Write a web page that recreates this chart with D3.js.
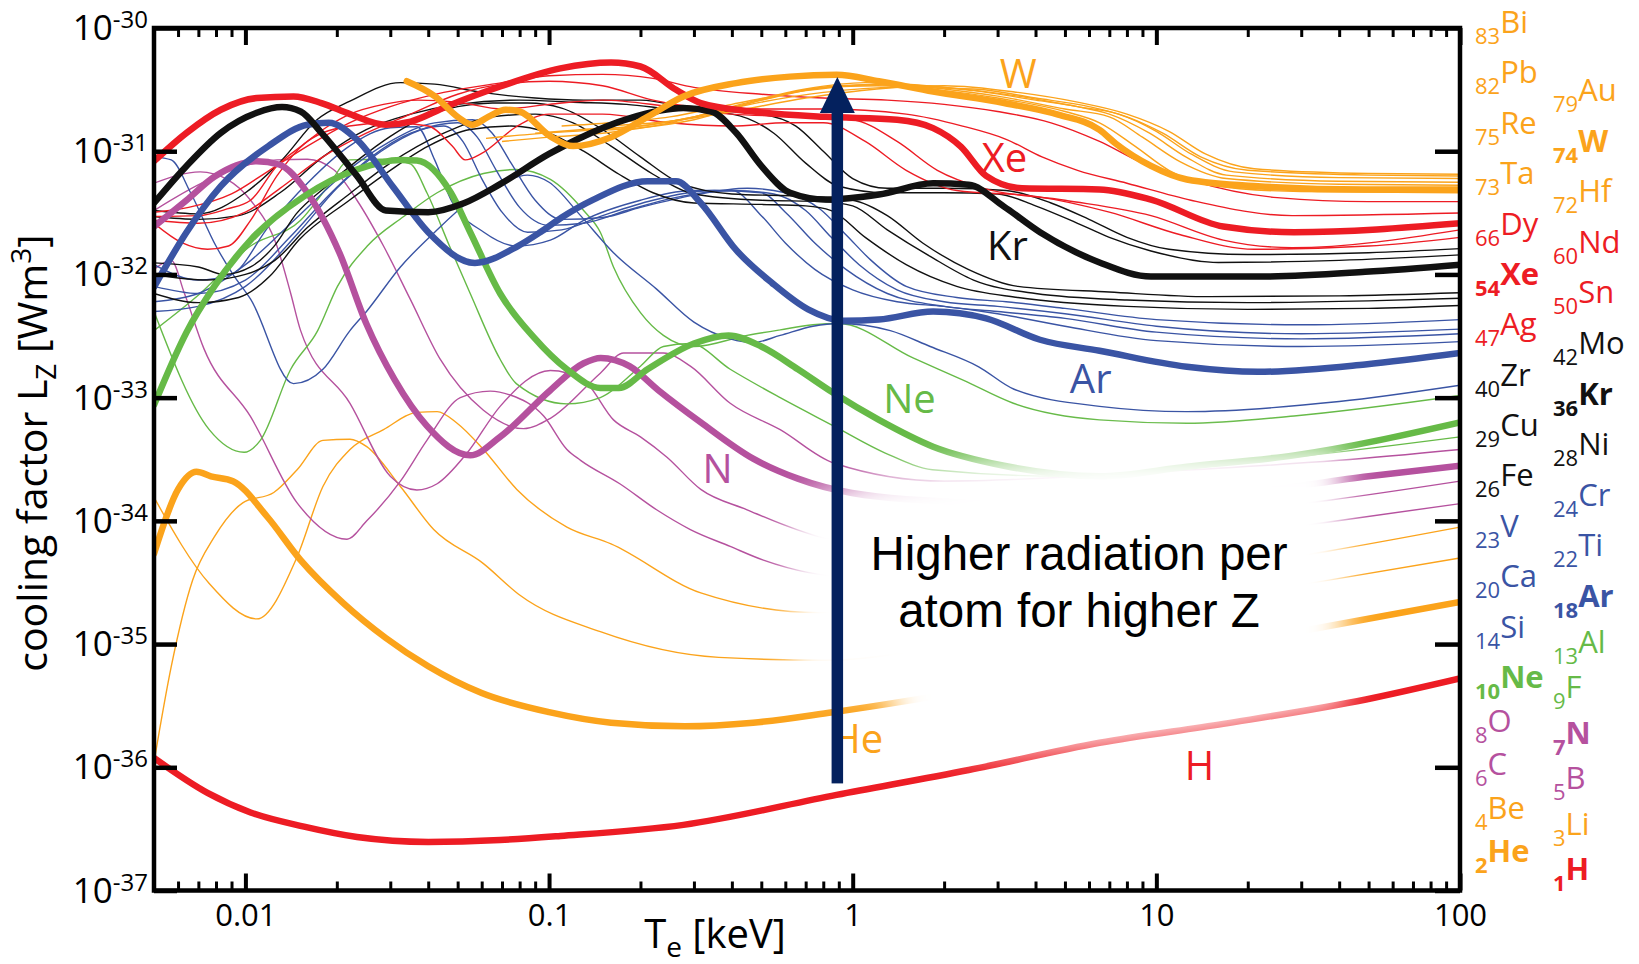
<!DOCTYPE html>
<html>
<head>
<meta charset="utf-8">
<title>Cooling factor Lz</title>
<script src="https://cdn.jsdelivr.net/npm/d3@7"></script>
<style>
    body { margin: 0; background: #fff; }
    svg text { font-family: "Open Sans", sans-serif; }
</style>
</head>
<body>
<svg id="chart"></svg>
<script>
// [Te (keV), Lz (W m^3)]
const H = [[0.005,1.19e-36],[0.0075,6.2e-37],[0.0104,4.3e-37],[0.0156,3.3e-37],[0.0233,2.72e-37],[0.04,2.48e-37],[0.069,2.57e-37],[0.109,2.77e-37],[0.277,3.41e-37],[0.885,5.97e-37],[2.41,9.5e-37],[6.5,1.58e-36],[16.6,2.25e-36],[49,3.55e-36],[100,5.26e-36]];
const He = [[0.005,5.4e-35],[0.006,1.8e-34],[0.0069,2.5e-34],[0.0077,2.3e-34],[0.0091,2.1e-34],[0.0118,1.08e-34],[0.0152,4.8e-35],[0.021,2.15e-35],[0.029,1.12e-35],[0.04,6.6e-36],[0.06,4e-36],[0.1,2.8e-36],[0.16,2.3e-36],[0.28,2.15e-36],[0.47,2.3e-36],[0.86,2.8e-36],[6.5,6.4e-36],[37,1.4e-35],[100,2.2e-35]];
const N = [[0.005,2.45e-32],[0.0064,4e-32],[0.0079,6.2e-32],[0.0109,8.3e-32],[0.0129,7.8e-32],[0.016,4.6e-32],[0.0204,1.5e-32],[0.025,4e-33],[0.031,1.4e-33],[0.0396,5.9e-34],[0.055,3.4e-34],[0.069,4.8e-34],[0.101,1.15e-33],[0.13,1.9e-33],[0.148,2.1e-33],[0.184,1.8e-33],[0.229,1.15e-33],[0.316,6.3e-34],[0.47,3.2e-34],[0.66,2.2e-34],[1.5,1.5e-34],[5,1.35e-34],[20,1.7e-34],[50,2.3e-34],[100,2.8e-34]];
const Ne = [[0.005,8.7e-34],[0.0064,3.4e-33],[0.0079,8e-33],[0.0104,1.9e-32],[0.0156,4.3e-32],[0.0233,7.1e-32],[0.0324,8.5e-32],[0.0367,8.4e-32],[0.0475,4.6e-32],[0.055,2.2e-32],[0.069,7e-33],[0.089,3.1e-33],[0.1145,1.7e-33],[0.1475,1.2e-33],[0.17,1.2e-33],[0.211,1.7e-33],[0.3,2.75e-33],[0.39,3.2e-33],[0.5,2.6e-33],[0.66,1.7e-33],[0.86,1.1e-33],[1.22,6.6e-34],[1.84,4e-34],[3.15,2.8e-34],[6.5,2.3e-34],[12.6,2.75e-34],[28.4,3.4e-34],[100,6.3e-34]];
const Ar = [[0.005,7.9e-33],[0.0064,2.2e-32],[0.0083,5.2e-32],[0.0119,1.1e-31],[0.016,1.64e-31],[0.0188,1.7e-31],[0.0233,1.24e-31],[0.0307,5.1e-32],[0.04,2.2e-32],[0.057,1.24e-32],[0.079,1.7e-32],[0.0935,2.2e-32],[0.11,2.9e-32],[0.14,4.05e-32],[0.211,5.7e-32],[0.262,5.7e-32],[0.316,3.8e-32],[0.413,1.58e-32],[0.543,8.5e-33],[0.713,5.2e-33],[0.935,4.2e-33],[1.22,4.3e-33],[1.84,5e-33],[2.75,4.4e-33],[4.14,2.95e-33],[6.5,2.4e-33],[12.6,1.78e-33],[21.6,1.62e-33],[48.7,1.86e-33],[100,2.3e-33]];
const Kr = [[0.005,3.8e-32],[0.0064,7.6e-32],[0.0083,1.41e-31],[0.0109,2.05e-31],[0.0132,2.28e-31],[0.0152,2.1e-31],[0.0178,1.41e-31],[0.0233,6.3e-32],[0.029,3.3e-32],[0.04,3.2e-32],[0.0526,3.8e-32],[0.069,5.4e-32],[0.1,9.5e-32],[0.123,1.24e-31],[0.184,1.85e-31],[0.277,2.24e-31],[0.342,2.1e-31],[0.413,1.41e-31],[0.5,7.6e-32],[0.622,4.6e-32],[0.816,4.05e-32],[1.22,4.45e-32],[1.84,5.5e-32],[2.41,5.35e-32],[3.15,3.55e-32],[4.14,2.2e-32],[6.5,1.25e-32],[9.6,9.6e-33],[21.6,9.6e-33],[48.7,1.05e-32],[100,1.2e-32]];
const Xe = [[0.005,8.3e-32],[0.0064,1.41e-31],[0.0083,2.17e-31],[0.0109,2.7e-31],[0.0144,2.78e-31],[0.0178,2.46e-31],[0.0221,2e-31],[0.029,1.64e-31],[0.035,1.74e-31],[0.0458,2.3e-31],[0.069,3.35e-31],[0.109,4.7e-31],[0.16,5.25e-31],[0.2,4.87e-31],[0.262,3.15e-31],[0.316,2.46e-31],[0.47,2.1e-31],[0.816,1.9e-31],[1.4,1.8e-31],[1.84,1.54e-31],[2.27,1.09e-31],[2.75,6.3e-32],[3.61,5e-32],[6.5,4.9e-32],[9.6,4.05e-32],[16.6,2.45e-32],[28.4,2.2e-32],[100,2.6e-32]];
const W = [[0.034,3.7e-31],[0.042,2.8e-31],[0.05,1.9e-31],[0.056,1.64e-31],[0.063,1.9e-31],[0.072,2.17e-31],[0.08,2.1e-31],[0.101,1.32e-31],[0.12,1.1e-31],[0.16,1.3e-31],[0.211,1.9e-31],[0.277,2.78e-31],[0.413,3.57e-31],[0.622,4.03e-31],[0.885,4.17e-31],[1.22,3.7e-31],[1.84,3.05e-31],[3.15,2.46e-31],[4.75,1.98e-31],[6.5,1.49e-31],[7.36,1.15e-31],[9.6,7.6e-32],[12.6,5.9e-32],[21.6,5.2e-32],[48.7,4.9e-32],[100,4.9e-32]];

const Li = [[0.005,1.1e-36],[0.0057,6.6e-36],[0.0067,3.3e-35],[0.0079,7.4e-35],[0.0098,1.4e-34],[0.0124,1.7e-34],[0.0148,2.6e-34],[0.018,4.5e-34],[0.0221,4.6e-34],[0.0251,4e-34],[0.0324,1.9e-34],[0.0417,8.5e-35],[0.0608,4.5e-35],[0.08,2.5e-35],[0.1475,1.26e-35],[0.362,7.8e-36],[0.816,7.4e-36],[5,1.6e-35],[37,3.3e-35],[100,5e-35]];
const Be = [[0.005,1.55e-34],[0.0076,3.1e-35],[0.0109,1.6e-35],[0.0148,5.1e-35],[0.018,1.9e-34],[0.0221,3.8e-34],[0.0285,5.5e-34],[0.0367,7.6e-34],[0.0428,7.7e-34],[0.0498,6.2e-34],[0.0608,3.8e-34],[0.0783,1.8e-34],[0.1145,8.9e-35],[0.16,6.5e-35],[0.316,2.6e-35],[0.773,1.8e-35],[4,2.6e-35],[37,5.7e-35],[100,8.9e-35]];
const B = [[0.005,1.1e-32],[0.0057,1.3e-32],[0.0063,7e-33],[0.0073,2.5e-33],[0.0104,7e-34],[0.0148,1.4e-34],[0.0216,7.1e-35],[0.0251,1e-34],[0.0324,2.1e-34],[0.0396,4.5e-34],[0.051,1e-33],[0.064,1.13e-33],[0.0745,1.05e-33],[0.096,7.1e-34],[0.1145,3.8e-34],[0.127,3.1e-34],[0.171,2e-34],[0.226,1.23e-34],[0.292,8.5e-35],[0.395,6.2e-35],[0.508,4.8e-35],[1,3.5e-35],[5,5e-35],[37,9.8e-35],[100,1.38e-34]];
const C = [[0.005,5.5e-32],[0.0071,6.8e-32],[0.0087,5.9e-32],[0.0104,4e-32],[0.0127,1.7e-32],[0.0141,7e-33],[0.0152,3.5e-33],[0.0221,9e-34],[0.03,2.3e-34],[0.0367,1.78e-34],[0.0428,2e-34],[0.0537,3.55e-34],[0.069,8.5e-34],[0.101,1.66e-33],[0.13,1.38e-33],[0.163,6.6e-34],[0.2,4.8e-34],[0.244,3.3e-34],[0.316,1.8e-34],[0.449,1.23e-34],[0.655,8.5e-35],[0.865,7.1e-35],[5,9e-35],[37,1.47e-34],[100,2.1e-34]];
const O = [[0.005,3.3e-32],[0.0075,5.8e-32],[0.0127,8.5e-32],[0.016,8.6e-32],[0.0195,7.1e-32],[0.0233,4e-32],[0.0285,1.7e-32],[0.0349,6.3e-33],[0.0438,2.05e-33],[0.0608,7.9e-34],[0.0824,5.6e-34],[0.101,6.8e-34],[0.1475,1.58e-33],[0.176,2.3e-33],[0.238,2.3e-33],[0.292,1.8e-33],[0.395,9e-34],[0.577,5.5e-34],[0.865,2.95e-34],[2,2.1e-34],[10,2.5e-34],[40,3.1e-34],[100,3.8e-34]];
const F = [[0.005,3.5e-33],[0.0071,7e-33],[0.0104,1.7e-32],[0.0152,2.75e-32],[0.0186,5.1e-32],[0.0221,8.5e-32],[0.0285,8.6e-32],[0.0349,7.9e-32],[0.0396,4.6e-32],[0.047,1.7e-32],[0.055,7e-33],[0.069,2.05e-33],[0.078,1.3e-33],[0.1145,8.9e-34],[0.1475,1e-33],[0.2,1.8e-33],[0.238,2.6e-33],[0.292,2.75e-33],[0.395,1.7e-33],[0.577,1e-33],[0.865,5.9e-34],[1.28,3.55e-34],[1.83,2.6e-34],[5,2.3e-34],[20,3e-34],[100,4.8e-34]];
const Al = [[0.005,5e-33],[0.0076,5.5e-34],[0.0099,3.6e-34],[0.0112,4.5e-34],[0.0141,1.7e-33],[0.0173,3.5e-33],[0.0201,8e-33],[0.0252,1.7e-32],[0.0332,2.95e-32],[0.0428,4.6e-32],[0.0608,6.6e-32],[0.078,7.1e-32],[0.101,5.9e-32],[0.13,3.3e-32],[0.1475,2.2e-32],[0.163,1.15e-32],[0.2,4.9e-33],[0.238,3.2e-33],[0.3,2.6e-33],[0.449,3.2e-33],[0.577,3.55e-33],[0.74,3.9e-33],[0.9,4e-33],[1.58,2.1e-33],[2.32,1.38e-33],[3.38,9e-34],[6.5,6.6e-34],[12.6,6.2e-34],[28.4,7.1e-34],[100,1.04e-33]];
const Si = [[0.005,9e-32],[0.0057,8.5e-32],[0.0066,4.6e-32],[0.008,1.7e-32],[0.0091,1e-32],[0.0104,6.3e-33],[0.0144,1.3e-33],[0.018,1.7e-33],[0.0221,3.5e-33],[0.0252,5.1e-33],[0.0324,1.15e-32],[0.042,2.2e-32],[0.0537,3.8e-32],[0.069,5.5e-32],[0.085,6.4e-32],[0.1,5.6e-32],[0.127,3e-32],[0.163,1.5e-32],[0.226,7.6e-33],[0.3,4.1e-33],[0.395,3e-33],[0.47,2.8e-33],[0.577,3.2e-33],[0.74,3.8e-33],[0.9,4e-33],[1.33,3.5e-33],[1.8,2.6e-33],[2.6,1.78e-33],[3.4,1.17e-33],[6.5,8.5e-34],[12.6,7.7e-34],[40,9.3e-34],[100,1.26e-33]];
const Ca = [[0.005,1.2e-32],[0.007,9e-33],[0.009,1e-32],[0.012,2.5e-32],[0.016,5.5e-32],[0.022,1.1e-31],[0.03,1.55e-31],[0.0367,1.58e-31],[0.042,8.5e-32],[0.0475,4.05e-32],[0.061,2.2e-32],[0.078,1.7e-32],[0.101,1.9e-32],[0.13,2.75e-32],[0.2,4e-32],[0.3,4.8e-32],[0.4,4.8e-32],[0.5,3e-32],[0.6,1.8e-32],[0.75,1.1e-32],[1,7.5e-33],[1.4,6e-33],[2,5.5e-33],[3,4.8e-33],[5,3.8e-33],[10,2.9e-33],[30,2.6e-33],[100,2.85e-33]];
const Ti = [[0.005,8e-33],[0.007,7e-33],[0.01,9e-33],[0.014,2e-32],[0.019,4.5e-32],[0.026,9e-32],[0.035,1.4e-31],[0.045,1.6e-31],[0.052,1.2e-31],[0.06,6e-32],[0.07,3.2e-32],[0.085,2.2e-32],[0.11,2.3e-32],[0.15,3e-32],[0.22,4e-32],[0.35,4.8e-32],[0.5,4.6e-32],[0.6,3.2e-32],[0.75,1.8e-32],[0.95,1.1e-32],[1.3,7e-33],[2,5.5e-33],[3,5e-33],[5,4.4e-33],[10,3.4e-33],[30,3e-33],[100,3.3e-33]];
const V = [[0.005,5e-33],[0.007,5.5e-33],[0.01,8e-33],[0.015,2.2e-32],[0.02,5e-32],[0.028,1e-31],[0.038,1.5e-31],[0.05,1.7e-31],[0.058,1.3e-31],[0.067,7e-32],[0.08,3.5e-32],[0.1,2.5e-32],[0.13,2.6e-32],[0.18,3.3e-32],[0.26,4.2e-32],[0.4,4.8e-32],[0.55,4.5e-32],[0.7,3.3e-32],[0.85,2e-32],[1.05,1.2e-32],[1.4,7.5e-33],[2,6e-33],[3,5.5e-33],[5,4.8e-33],[10,3.8e-33],[30,3.3e-33],[100,3.6e-33]];
const Cr = [[0.005,6e-33],[0.007,7e-33],[0.01,1.2e-32],[0.015,3e-32],[0.021,6.5e-32],[0.03,1.2e-31],[0.042,1.7e-31],[0.056,1.8e-31],[0.065,1.4e-31],[0.075,8e-32],[0.09,4e-32],[0.11,2.8e-32],[0.15,2.9e-32],[0.2,3.5e-32],[0.3,4.4e-32],[0.45,5e-32],[0.6,4.6e-32],[0.78,3.4e-32],[0.95,2.1e-32],[1.15,1.3e-32],[1.5,8e-33],[2.2,6.5e-33],[3.2,6e-33],[5,5.3e-33],[10,4.3e-33],[30,3.9e-33],[100,4.3e-33]];
const Fe = [[0.005,7e-33],[0.007,5.9e-33],[0.0095,6.5e-33],[0.012,9.6e-33],[0.015,1.9e-32],[0.022,4e-32],[0.03,7e-32],[0.04,1.1e-31],[0.055,1.5e-31],[0.075,1.6e-31],[0.1,1.4e-31],[0.13,1e-31],[0.17,6.5e-32],[0.22,4.6e-32],[0.3,3.8e-32],[0.5,3.7e-32],[0.7,3.6e-32],[0.85,3.3e-32],[1.1,2e-32],[1.5,1.2e-32],[2.2,8e-33],[3.5,6.5e-33],[8,5.5e-33],[20,5.2e-33],[50,5.3e-33],[100,5.6e-33]];
const Ni = [[0.005,1e-32],[0.0075,9e-33],[0.01,1e-32],[0.0125,1.3e-32],[0.016,2.4e-32],[0.022,4.5e-32],[0.03,8e-32],[0.045,1.4e-31],[0.065,1.9e-31],[0.09,2e-31],[0.12,1.7e-31],[0.16,1.1e-31],[0.22,6.5e-32],[0.3,4.5e-32],[0.5,4e-32],[0.8,3.9e-32],[1,3.6e-32],[1.3,2.3e-32],[1.8,1.4e-32],[2.5,9e-33],[4,7e-33],[8,6.2e-33],[20,5.9e-33],[50,6.1e-33],[100,6.4e-33]];
const Cu = [[0.005,1.24e-32],[0.007,1.15e-32],[0.0085,1e-32],[0.0104,1.15e-32],[0.0124,1.68e-32],[0.0147,3.1e-32],[0.0183,5.1e-32],[0.0235,8.5e-32],[0.03,1.32e-31],[0.039,1.9e-31],[0.05,2.3e-31],[0.065,2.46e-31],[0.085,2.46e-31],[0.11,2.24e-31],[0.15,1.5e-31],[0.2,9e-32],[0.27,5.5e-32],[0.4,4.5e-32],[0.7,4.3e-32],[1,4e-32],[1.3,3e-32],[1.7,1.8e-32],[2.4,1.1e-32],[3.5,8e-33],[7,7.2e-33],[15,6.6e-33],[40,6.7e-33],[100,7.1e-33]];
const Zr = [[0.005,2.95e-32],[0.007,2.8e-32],[0.0095,3e-32],[0.013,4.6e-32],[0.018,9e-32],[0.025,1.5e-31],[0.035,2e-31],[0.05,2.4e-31],[0.08,2.6e-31],[0.12,2.5e-31],[0.18,2.4e-31],[0.25,2.2e-31],[0.4,2e-31],[0.55,1.4e-31],[0.7,8e-32],[0.9,5.2e-32],[1.3,4.6e-32],[2,4.6e-32],[3,4.5e-32],[4,3.6e-32],[5.5,2.6e-32],[7,2e-32],[9.6,1.55e-32],[16,1.25e-32],[40,1.3e-32],[100,1.44e-32]];
const Mo = [[0.005,3.3e-32],[0.007,3.1e-32],[0.01,4.6e-32],[0.0132,8.5e-32],[0.0172,1.8e-31],[0.0221,2.55e-31],[0.0324,3.6e-31],[0.042,3.5e-31],[0.06,3e-31],[0.09,2.7e-31],[0.13,2.6e-31],[0.2,2.6e-31],[0.3,2.2e-31],[0.5,2e-31],[0.65,1.6e-31],[0.8,1e-31],[1,6e-32],[1.3,5e-32],[2,5e-32],[3.2,4.8e-32],[4.5,3.8e-32],[6,2.8e-32],[8,2e-32],[11,1.6e-32],[20,1.45e-32],[50,1.5e-32],[100,1.62e-32]];
const Ag = [[0.005,2.6e-32],[0.0062,1.8e-32],[0.0075,1.6e-32],[0.0088,1.7e-32],[0.0104,2.75e-32],[0.0127,6.3e-32],[0.016,1.2e-31],[0.022,1.6e-31],[0.03,1.7e-31],[0.04,1.6e-31],[0.048,1.1e-31],[0.053,8.5e-32],[0.06,9.6e-32],[0.078,1.58e-31],[0.1,2e-31],[0.15,2e-31],[0.25,1.7e-31],[0.4,1.6e-31],[0.6,1.7e-31],[0.8,1.7e-31],[1.1,1.2e-31],[1.5,7e-32],[2.2,4.8e-32],[4,4.3e-32],[7,3.2e-32],[12,2.1e-32],[21,1.6e-32],[50,1.7e-32],[100,2e-32]];
const Sn = [[0.005,2.95e-32],[0.007,3e-32],[0.0087,3.4e-32],[0.0104,4e-32],[0.0127,7.6e-32],[0.0152,1.09e-31],[0.0186,1.58e-31],[0.0221,2e-31],[0.0285,2.4e-31],[0.037,2.6e-31],[0.05,2.5e-31],[0.07,2.2e-31],[0.1,2.4e-31],[0.15,2.6e-31],[0.25,2.3e-31],[0.4,2e-31],[0.7,1.9e-31],[1,1.8e-31],[1.4,1.2e-31],[1.9,7e-32],[2.7,5e-32],[5,4e-32],[9.6,3e-32],[16.6,1.9e-32],[28,1.65e-32],[100,2.3e-32]];
const Nd = [[0.005,2.75e-32],[0.007,2.6e-32],[0.01,3.2e-32],[0.013,5e-32],[0.018,9e-32],[0.025,1.4e-31],[0.035,2e-31],[0.05,2.9e-31],[0.07,3.5e-31],[0.1,3.7e-31],[0.15,3.4e-31],[0.22,2.6e-31],[0.3,2.3e-31],[0.5,2.2e-31],[0.8,2.2e-31],[1.5,2e-31],[2.3,1.6e-31],[3.2,1.25e-31],[4.2,9e-32],[5.5,7e-32],[8,5.5e-32],[13,4e-32],[28,3e-32],[100,3.15e-32]];
const Dy = [[0.005,3.2e-32],[0.0065,3.5e-32],[0.009,4.5e-32],[0.012,7e-32],[0.016,1.1e-31],[0.022,1.7e-31],[0.03,2.3e-31],[0.045,3e-31],[0.07,3.6e-31],[0.1,4.1e-31],[0.15,4.2e-31],[0.22,3.9e-31],[0.3,3.3e-31],[0.5,2.9e-31],[0.8,2.7e-31],[1.3,2.6e-31],[2,2.4e-31],[3,2.1e-31],[4.5,1.7e-31],[6.5,1.2e-31],[9,8e-32],[13,5.8e-32],[25,4.2e-32],[50,3.9e-32],[100,3.9e-32]];
const Hf = [[0.062,1.27e-31],[0.08,1.35e-31],[0.12,1.45e-31],[0.2,1.55e-31],[0.3,1.8e-31],[0.5,2.6e-31],[0.8,3.3e-31],[1.2,3.4e-31],[2,3.1e-31],[3,2.7e-31],[5,2.1e-31],[6.5,1.7e-31],[8.5,1.1e-31],[11,7e-32],[15,5.3e-32],[30,4.7e-32],[100,4.6e-32]];
const Ta = [[0.07,1.2e-31],[0.1,1.3e-31],[0.15,1.4e-31],[0.25,1.7e-31],[0.4,2.3e-31],[0.7,3.2e-31],[1.1,3.6e-31],[2,3.2e-31],[3,2.8e-31],[5,2.2e-31],[7,1.9e-31],[9,1.3e-31],[12,8.2e-32],[17,6e-32],[40,5.4e-32],[100,5.3e-32]];
const Re = [[0.09,1.4e-31],[0.13,1.5e-31],[0.2,1.6e-31],[0.3,1.9e-31],[0.5,2.6e-31],[0.9,3.4e-31],[1.4,3.5e-31],[2.5,3.1e-31],[4,2.6e-31],[5.5,2.3e-31],[7,2e-31],[9.5,1.4e-31],[12.5,9e-32],[17,6.4e-32],[40,5.7e-32],[100,5.6e-32]];
const Au = [[0.11,1.6e-31],[0.16,1.7e-31],[0.25,1.9e-31],[0.4,2.4e-31],[0.7,3.1e-31],[1.2,3.5e-31],[2,3.3e-31],[3.5,2.8e-31],[5.5,2.3e-31],[7.5,2e-31],[10,1.45e-31],[13,9.5e-32],[18,6.8e-32],[40,6.1e-32],[100,6e-32]];
const Pb = [[0.13,1.5e-31],[0.2,1.6e-31],[0.3,1.9e-31],[0.5,2.5e-31],[0.8,3e-31],[1.4,3.3e-31],[2.5,3.2e-31],[4,2.7e-31],[6,2.3e-31],[8,1.9e-31],[10.5,1.4e-31],[14,9e-32],[20,7e-32],[50,6.4e-32],[100,6.3e-32]];
const Bi = [[0.15,1.6e-31],[0.25,1.75e-31],[0.4,2.1e-31],[0.7,2.7e-31],[1.2,3.2e-31],[2,3.4e-31],[3.5,3e-31],[5.5,2.5e-31],[8,2e-31],[11,1.45e-31],[14.5,9.5e-32],[21,7.2e-32],[50,6.6e-32],[100,6.5e-32]];

const thinSeries = [
    [Li, "orange"], [Be, "orange"],
    [B, "purple"], [C, "purple"], [O, "purple"],
    [F, "green"], [Al, "green"],
    [Si, "blue"], [Ca, "blue"], [Ti, "blue"], [V, "blue"], [Cr, "blue"],
    [Fe, "black"], [Ni, "black"], [Cu, "black"], [Zr, "black"], [Mo, "black"],
    [Ag, "red"], [Sn, "red"], [Nd, "red"], [Dy, "red"],
    [Hf, "orange"], [Ta, "orange"], [Re, "orange"], [Au, "orange"], [Pb, "orange"], [Bi, "orange"]
];
const thickSeries = [
    [H, "red"], [He, "orange"], [N, "purple"], [Ne, "green"],
    [Ar, "blue"], [Kr, "black"], [Xe, "red"], [W, "orange"]
];

// label, Te, Lz (left baseline point), colour
const curveLabels = [
    ["W", 3.05, 3.26e-31, "orange"], ["Xe", 2.66, 6.8e-32, "red"], ["Kr", 2.77, 1.31e-32, "black"],
    ["Ar", 5.19, 1.09e-33, "blue"], ["Ne", 1.26, 7.5e-34, "green"], ["N", 0.32, 2.03e-34, "purple"],
    ["He", 0.85, 1.3e-36, "orange"], ["H", 12.4, 7.9e-37, "red"]
];

const xMajor = [0.01, 0.1, 1, 10, 100];
const yExponents = [-30, -31, -32, -33, -34, -35, -36, -37];

// [Z, symbol, colour, bold]
const legendLeft = [
    [83, "Bi", "orange"], [82, "Pb", "orange"], [75, "Re", "orange"], [73, "Ta", "orange"],
    [66, "Dy", "red"], [54, "Xe", "red", 1], [47, "Ag", "red"], [40, "Zr", "black"],
    [29, "Cu", "black"], [26, "Fe", "black"], [23, "V", "blue"], [20, "Ca", "blue"],
    [14, "Si", "blue"], [10, "Ne", "green", 1], [8, "O", "purple"], [6, "C", "purple"],
    [4, "Be", "orange"], [2, "He", "orange", 1]
];
const legendRight = [
    [79, "Au", "orange"], [74, "W", "orange", 1], [72, "Hf", "orange"], [60, "Nd", "red"],
    [50, "Sn", "red"], [42, "Mo", "black"], [36, "Kr", "black", 1], [28, "Ni", "black"],
    [24, "Cr", "blue"], [22, "Ti", "blue"], [18, "Ar", "blue", 1], [13, "Al", "green"],
    [9, "F", "green"], [7, "N", "purple", 1], [5, "B", "purple"], [3, "Li", "orange"],
    [1, "H", "red", 1]
];

const arrowTe = 0.89, arrowFrom = 7.4e-37, arrowTo = 4e-31;

class CoolingChart {
    constructor(_config) {
        this.config = {
            parentElement: _config.parentElement,
            containerWidth: 1639,
            containerHeight: 964,
            margin: { top: 28, right: 179, bottom: 73.5, left: 154 }
        };
        this.colors = {
            orange: "#FBA31B", red: "#ED1C24", black: "#111111",
            blue: "#3A54A4", green: "#66BA47", purple: "#B5519E"
        };
        this.initVis();
    }

    initVis() {
        let vis = this;
        vis.width = vis.config.containerWidth - vis.config.margin.left - vis.config.margin.right;
        vis.height = vis.config.containerHeight - vis.config.margin.top - vis.config.margin.bottom;

        vis.xScale = d3.scaleLog().domain([0.005, 100]).range([0, vis.width]);
        vis.yScale = d3.scaleLog().domain([1e-37, 1e-30]).range([vis.height, 0]);

        vis.svg = d3.select(vis.config.parentElement)
            .attr("width", vis.config.containerWidth)
            .attr("height", vis.config.containerHeight);

        vis.defs = vis.svg.append("defs");
        vis.defs.append("clipPath").attr("id", "plot-clip")
            .append("rect").attr("width", vis.width).attr("height", vis.height);
        let blur = vis.defs.append("filter").attr("id", "fade")
            .attr("x", "-40%").attr("y", "-40%").attr("width", "180%").attr("height", "180%");
        blur.append("feGaussianBlur").attr("stdDeviation", 16);

        vis.chart = vis.svg.append("g")
            .attr("transform", `translate(${vis.config.margin.left},${vis.config.margin.top})`);

        vis.line = d3.line()
            .x(d => vis.xScale(d[0]))
            .y(d => vis.yScale(d[1]))
            .curve(d3.curveMonotoneX);

        vis.renderVis();
    }

    renderVis() {
        let vis = this;
        let plot = vis.chart.append("g").attr("clip-path", "url(#plot-clip)");

        plot.append("g").selectAll("path")
            .data(thinSeries)
            .join("path")
            .attr("d", d => vis.line(d[0]))
            .attr("fill", "none")
            .attr("stroke", d => vis.colors[d[1]])
            .attr("stroke-width", 1.4)
            .attr("stroke-linejoin", "round");

        plot.append("g").selectAll("path")
            .data(thickSeries)
            .join("path")
            .attr("d", d => vis.line(d[0]))
            .attr("fill", "none")
            .attr("stroke", d => vis.colors[d[1]])
            .attr("stroke-width", 6.5)
            .attr("stroke-linejoin", "round")
            .attr("stroke-linecap", "round");

        // white soft patch behind the annotation, curves fade out under it
        vis.chart.append("g")
            .attr("transform", `translate(${-vis.config.margin.left},${-vis.config.margin.top})`)
            .append("polygon")
            .attr("points", "790,505 870,478 1000,458 1100,448 1345,448 1345,704 1220,728 1100,744 1000,752 892,740 892,688 790,688")
            .attr("fill", "#fff")
            .attr("filter", "url(#fade)");

        // axes, ticks pointing inwards
        let xMinor = vis.xScale.ticks().filter(t => t > 0.005 &&
            Math.abs(Math.log10(t) - Math.round(Math.log10(t))) > 1e-6);
        let yMajor = yExponents.map(e => Math.pow(10, e));

        let styleTicks = (g, w) => {
            g.select(".domain").remove();
            g.selectAll(".tick line").attr("stroke", "#000").attr("stroke-width", w);
        };

        vis.chart.append("g").attr("transform", `translate(0,${vis.height})`)
            .call(d3.axisBottom(vis.xScale).tickValues(xMinor).tickSize(-9).tickFormat(""))
            .call(g => styleTicks(g, 3));
        vis.chart.append("g")
            .call(d3.axisTop(vis.xScale).tickValues(xMinor).tickSize(-9).tickFormat(""))
            .call(g => styleTicks(g, 3));
        vis.chart.append("g")
            .call(d3.axisTop(vis.xScale).tickValues(xMajor).tickSize(-17).tickFormat(""))
            .call(g => styleTicks(g, 4));

        vis.chart.append("g").attr("transform", `translate(0,${vis.height})`)
            .call(d3.axisBottom(vis.xScale).tickValues(xMajor).tickSize(-17)
                .tickPadding(13.5).tickFormat(d3.format("~g")))
            .call(g => styleTicks(g, 4))
            .call(g => g.selectAll(".tick text")
                .attr("font-size", 31).attr("fill", "#000"));

        vis.chart.append("g")
            .call(d3.axisLeft(vis.yScale).tickValues(yMajor).tickSize(-23).tickFormat(""))
            .call(g => styleTicks(g, 4.5));
        vis.chart.append("g").attr("transform", `translate(${vis.width},0)`)
            .call(d3.axisRight(vis.yScale).tickValues(yMajor).tickSize(-25).tickFormat(""))
            .call(g => styleTicks(g, 4.5));

        vis.chart.append("rect")
            .attr("width", vis.width).attr("height", vis.height)
            .attr("fill", "none").attr("stroke", "#000").attr("stroke-width", 4.5);

        // y tick labels 10^-n
        vis.chart.append("g").selectAll("text")
            .data(yExponents)
            .join("text")
            .attr("x", -6)
            .attr("y", d => vis.yScale(Math.pow(10, d)) + 12)
            .attr("text-anchor", "end")
            .attr("font-size", 35)
            .each(function (d) {
                let t = d3.select(this);
                t.append("tspan").text("10");
                t.append("tspan").attr("font-size", 24).attr("dy", -12).text("-" + Math.abs(d));
            });

        // axis titles
        let yt = vis.svg.append("text")
            .attr("transform", "translate(47,453) rotate(-90)")
            .attr("text-anchor", "middle")
            .attr("font-size", 41);
        yt.append("tspan").text("cooling factor L");
        yt.append("tspan").attr("font-size", 28).attr("dy", 9).text("Z");
        yt.append("tspan").attr("dy", -9).text(" [Wm");
        yt.append("tspan").attr("font-size", 28).attr("dy", -16).text("3");
        yt.append("tspan").attr("dy", 16).text("]");

        let xt = vis.svg.append("text")
            .attr("x", 715).attr("y", 948)
            .attr("text-anchor", "middle")
            .attr("font-size", 40);
        xt.append("tspan").text("T");
        xt.append("tspan").attr("font-size", 28).attr("dy", 9).text("e");
        xt.append("tspan").attr("dy", -9).text(" [keV]");

        // curve labels
        vis.chart.append("g").selectAll("text")
            .data(curveLabels)
            .join("text")
            .attr("x", d => vis.xScale(d[1]))
            .attr("y", d => vis.yScale(d[2]))
            .attr("font-size", 40)
            .attr("fill", d => vis.colors[d[3]])
            .text(d => d[0]);

        // arrow
        let ax = vis.xScale(arrowTe);
        let yTip = vis.yScale(arrowTo);
        let yBase = vis.yScale(arrowFrom);
        vis.chart.append("rect")
            .attr("x", ax - 5.75).attr("y", yTip + 30)
            .attr("width", 11.5).attr("height", yBase - yTip - 30)
            .attr("fill", "#04215E");
        vis.chart.append("path")
            .attr("d", `M${ax - 17.5},${yTip + 36}L${ax},${yTip}L${ax + 17.5},${yTip + 36}Z`)
            .attr("fill", "#04215E");

        let note = vis.svg.append("text")
            .attr("text-anchor", "middle")
            .style("font-family", "'Liberation Sans', Arial, sans-serif")
            .attr("font-size", 47.5)
            .attr("fill", "#000");
        note.append("tspan").attr("x", 1079).attr("y", 570).text("Higher radiation per");
        note.append("tspan").attr("x", 1079).attr("y", 627).text("atom for higher Z");

        // element list on the right
        let rowLeft = d3.scaleLinear().domain([0, 13, 17]).range([33, 688, 862]);
        let rowRight = d3.scaleLinear().domain([0, 10, 16]).range([101, 607, 880]);
        let drawColumn = (items, xPos, row) => {
            vis.svg.append("g").selectAll("text")
                .data(items)
                .join("text")
                .attr("x", xPos)
                .attr("y", (d, i) => row(i))
                .attr("fill", d => vis.colors[d[2]])
                .attr("font-weight", d => d[3] ? 700 : 400)
                .each(function (d) {
                    let t = d3.select(this);
                    t.append("tspan").attr("font-size", 22).attr("dy", 11).text(d[0]);
                    t.append("tspan").attr("font-size", 31).attr("dy", -11).text(d[1]);
                });
        };
        drawColumn(legendLeft, 1475, rowLeft);
        drawColumn(legendRight, 1553, rowRight);
    }
}

new CoolingChart({ parentElement: "#chart" });
</script>
</body>
</html>
